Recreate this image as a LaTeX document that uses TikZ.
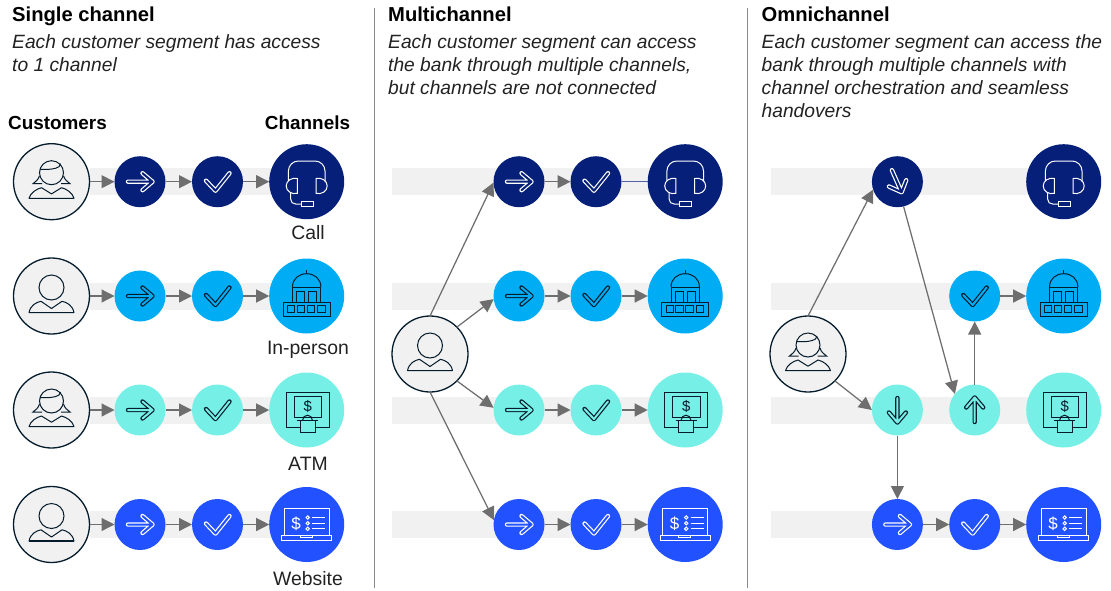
\documentclass[tikz,border=0pt]{standalone}
\usepackage{fontspec}
\setmainfont{Liberation Sans}
\usetikzlibrary{arrows.meta}
\definecolor{navy}{HTML}{06207A}
\definecolor{sky}{HTML}{00ADF5}
\definecolor{aqua}{HTML}{76F0E6}
\definecolor{cobalt}{HTML}{2251FF}
\definecolor{ink}{HTML}{051C2C}
\definecolor{band}{HTML}{F1F1F1}
\definecolor{conn}{HTML}{6E6E6E}
\definecolor{rulec}{HTML}{8A8A8A}
\definecolor{txt}{HTML}{222222}
\tikzset{
  stepdot/.style={circle,minimum size=51pt,inner sep=0pt,outer sep=0pt},
  chandot/.style={circle,minimum size=75pt,inner sep=0pt,outer sep=0pt},
  custdot/.style={circle,minimum size=76pt,inner sep=0pt,outer sep=0pt,fill=band,draw=ink,line width=1.3pt},
  link/.style={draw=conn,line width=1.25pt,-{Triangle[length=13pt,width=13pt]}},
  plainlink/.style={draw=navy!70,line width=1pt},
  ico/.style={line width=1pt,line join=miter},
  title/.style={anchor=base west,inner sep=0pt,font=\fontsize{20.2}{24}\selectfont\bfseries,text=black},
  desc/.style={anchor=base west,inner sep=0pt,font=\fontsize{19.2}{23}\selectfont\itshape,text=txt},
  head/.style={anchor=base,inner sep=0pt,font=\fontsize{18.9}{23}\selectfont\bfseries,text=black},
  lab/.style={anchor=base,inner sep=0pt,font=\fontsize{19.4}{23}\selectfont,text=txt},
  sep/.style={draw=rulec,line width=1pt}
}
% hollow arrow: #1 node, #2 rotation, #3 outline, #4 fill
\newcommand{\icoarrow}[4]{\begin{scope}[shift={(#1)},rotate=#2]
  \draw[line width=1.2pt,draw=#3,double=#4,double distance=2pt,line cap=round,line join=round]
    (-12,0) -- (12.5,0) (2.5,-8.5) -- (12.5,0) -- (2.5,8.5);
\end{scope}}
\newcommand{\icoslant}[3]{\begin{scope}[shift={(#1)}]
  \draw[line width=1.2pt,draw=#2,double=#3,double distance=2pt,line cap=round,line join=round]
    (-5.5,-11.5) -- (4.2,10.5) (-8.5,4.8) -- (4.2,10.5) -- (8.8,-1.5);
\end{scope}}
\newcommand{\icocheck}[3]{\begin{scope}[shift={(#1)}]
  \draw[line width=1.2pt,draw=#2,double=#3,double distance=2pt,line cap=round,line join=round]
    (-11.5,-1) -- (-2,9) -- (12,-8.5);
\end{scope}}
\newcommand{\icoman}[1]{\begin{scope}[shift={(#1)},ico,draw=ink]
  \draw (0,-8.5) circle (12.5);
  \draw[line join=round] (-22.5,16.6) .. controls (-21,9) and (-15,6.2) .. (-10.5,5.3) -- (0,12.5) -- (10.5,5.3) .. controls (15,6.2) and (21,9) .. (22.5,16.6) -- cycle;
  \draw[line width=1.6pt] (-22.5,16.6) -- (22.5,16.6);
\end{scope}}
\newcommand{\icowoman}[1]{\begin{scope}[shift={(#1)},ico,draw=ink]
  \draw (0,-9) circle (12);
  \draw (-11.5,-12.5) .. controls (-3,-12) and (4,-12.5) .. (7.5,-15) -- (9,-18);
  \draw (-12,-6) .. controls (-13,-2) and (-16,0) .. (-18.5,2) -- (-9.5,2);
  \draw (9.5,2) -- (18.5,2) .. controls (16,0) and (13,-2) .. (12,-6);
  \draw[line join=round] (-22.5,16.6) .. controls (-21,11) and (-15,7.2) .. (-10,6) -- (0,12.2) -- (10,6) .. controls (15,7.2) and (21,11) .. (22.5,16.6) -- cycle;
\end{scope}}
\newcommand{\icohead}[2]{\begin{scope}[shift={(#1)},ico,draw=#2]
  \draw[rounded corners=10pt] (-18.3,-0.5) -- (-18.3,-20.7) -- (18.3,-20.7) -- (18.3,-0.5);
  \draw (-9.3,-3.2) .. controls (-15,-4.5) and (-20.5,-1) .. (-20.5,4.2) .. controls (-20.5,9.5) and (-15,13) .. (-9.3,11.7) -- cycle;
  \draw (9.3,-3.2) .. controls (15,-4.5) and (20.5,-1) .. (20.5,4.2) .. controls (20.5,9.5) and (15,13) .. (9.3,11.7) -- cycle;
  \draw (-16,10.5) -- (-16,17.5) .. controls (-16,20.5) and (-14,22.3) .. (-11,22.3) -- (-5.7,22.3);
  \draw (-5.7,20) rectangle (6.7,24.7);
\end{scope}}
\newcommand{\icobank}[1]{\begin{scope}[shift={(#1)},ico,draw=ink]
  \draw (-23.3,6) rectangle (23.3,20.3);
  \draw (-19,9.5) rectangle (-12,16.7) (-9.3,9.5) rectangle (-2,16.7) (0.7,9.5) rectangle (8,16.7) (11,9.5) rectangle (18.3,16.7);
  \draw (-14.2,6) -- (-14.2,-9) (14.2,6) -- (14.2,-9) (-14.2,-9) -- (14.2,-9);
  \draw (-14.2,-9) .. controls (-14.2,-17.5) and (-7.5,-22.3) .. (0,-22.3) .. controls (7.5,-22.3) and (14.2,-17.5) .. (14.2,-9);
  \draw (0,-22.3) -- (0,-25.7);
  \draw (-10,6) -- (-10,-4.7) -- (-1.8,-4.7) -- (-1.8,6) (1.8,6) -- (1.8,-4.7) -- (10,-4.7) -- (10,6);
\end{scope}}
\newcommand{\icoatm}[1]{\begin{scope}[shift={(#1)},ico,draw=ink]
  \draw (-6.7,17.3) -- (-20.3,17.3) -- (-20.3,-17.7) -- (22.3,-17.7) -- (22.3,17.3) -- (8.3,17.3);
  \draw (-12.7,-14) rectangle (15,7.7);
  \draw (-9.3,10) -- (11.7,10);
  \draw (-6.7,10) -- (-6.7,22.7) -- (8.3,22.7) -- (8.3,10);
  \draw (-4,10) arc[start angle=180,end angle=360,radius=4.8];
  \node[inner sep=0pt,text=ink,font=\fontsize{15}{15}\selectfont] at (1,-3.3) {\$};
\end{scope}}
\newcommand{\icolaptop}[1]{\begin{scope}[shift={(#1)},ico,draw=white]
  \draw (-22.3,10.7) -- (-22.3,-16) -- (22.3,-16) -- (22.3,10.7);
  \draw (-25,10.7) rectangle (25,15.7);
  \draw (-6.7,10.7) -- (-6.7,13) -- (5.7,13) -- (5.7,10.7);
  \node[inner sep=0pt,text=white,font=\fontsize{17}{17}\selectfont] at (-10.7,-1) {\$};
  \draw (1,-7) circle (1.7) (1,-1.3) circle (1.7) (1,4.3) circle (1.7);
  \draw (5.7,-7) -- (18.3,-7) (5.7,-1.3) -- (18.3,-1.3) (5.7,4.3) -- (18.3,4.3);
\end{scope}}
\begin{document}
\begin{tikzpicture}[x=1pt,y=-1pt]
\useasboundingbox (0,0) rectangle (1111,590);
% bands
\foreach \y in {181.7,296,410,524.5}{
  \fill[band] (90,\y-13.5) rectangle (272,\y+13.5);
  \fill[band] (392,\y-13.5) rectangle (652,\y+13.5);
  \fill[band] (771,\y-13.5) rectangle (1030,\y+13.5);
}
% panel separators
\coordinate (s1t) at (374.7,8); \coordinate (s1b) at (374.7,588);
\coordinate (s2t) at (747.7,8); \coordinate (s2b) at (747.7,588);
\draw[sep] (s1t) -- (s1b);
\draw[sep] (s2t) -- (s2b);
% texts
\node[title] (t1) at (12,21) {Single channel};
\node[desc] (d1a) at (12,48) {Each customer segment has access};
\node[desc] (d1b) at (12,71) {to 1 channel};
\node[title] (t2) at (388,21) {Multichannel};
\node[desc] (d2a) at (388,48) {Each customer segment can access};
\node[desc] (d2b) at (388,71) {the bank through multiple channels,};
\node[desc] (d2c) at (388,94) {but channels are not connected};
\node[title] (t3) at (761.5,21) {Omnichannel};
\node[desc] (d3a) at (761.5,48) {Each customer segment can access the};
\node[desc] (d3b) at (761.5,71) {bank through multiple channels with};
\node[desc] (d3c) at (761.5,94) {channel orchestration and seamless};
\node[desc] (d3d) at (761.5,117) {handovers};
\node[head] (hc) at (57.5,129) {Customers};
\node[head] (hh) at (307.5,129) {Channels};
\node[lab] (l1) at (308,239) {Call};
\node[lab] (l2) at (308,354) {In-person};
\node[lab] (l3) at (308,470) {ATM};
\node[lab] (l4) at (308,585) {Website};
% panel 1 nodes
\node[custdot] (c1) at (51.5,181.7) {};
\node[custdot] (c2) at (51.5,296) {};
\node[custdot] (c3) at (51.5,410) {};
\node[custdot] (c4) at (51.5,524.5) {};
\icowoman{c1} \icoman{c2} \icowoman{c3} \icoman{c4}
\foreach \p/\xc in {A/306.7,B/685.2,C/1063.7}{
  \node[chandot,fill=navy] (\p h1) at (\xc,181.7) {};
  \node[chandot,fill=sky] (\p h2) at (\xc,296) {};
  \node[chandot,fill=aqua] (\p h3) at (\xc,410) {};
  \node[chandot,fill=cobalt] (\p h4) at (\xc,524.5) {};
  \icohead{\p h1}{white} \icobank{\p h2} \icoatm{\p h3} \icolaptop{\p h4}
}
\foreach \p/\xa/\xb in {A/140/217.5,B/519/596}{
  \node[stepdot,fill=navy] (\p a1) at (\xa,181.7) {};
  \node[stepdot,fill=navy] (\p b1) at (\xb,181.7) {};
  \node[stepdot,fill=sky] (\p a2) at (\xa,296) {};
  \node[stepdot,fill=sky] (\p b2) at (\xb,296) {};
  \node[stepdot,fill=aqua] (\p a3) at (\xa,410) {};
  \node[stepdot,fill=aqua] (\p b3) at (\xb,410) {};
  \node[stepdot,fill=cobalt] (\p a4) at (\xa,524.5) {};
  \node[stepdot,fill=cobalt] (\p b4) at (\xb,524.5) {};
  \icoarrow{\p a1}{0}{white}{navy} \icocheck{\p b1}{white}{navy}
  \icoarrow{\p a2}{0}{ink}{sky} \icocheck{\p b2}{ink}{sky}
  \icoarrow{\p a3}{0}{ink}{aqua} \icocheck{\p b3}{ink}{aqua}
  \icoarrow{\p a4}{0}{white}{cobalt} \icocheck{\p b4}{white}{cobalt}
}
% panel 1 connectors
\foreach \r in {1,2,3,4}{
  \draw[link] (c\r) -- (Aa\r);
  \draw[link] (Aa\r) -- (Ab\r);
  \draw[link] (Ab\r) -- (Ah\r);
  \draw[link] (Ba\r) -- (Bb\r);
}
\foreach \r in {2,3,4}{\draw[link] (Bb\r) -- (Bh\r);}
\draw[plainlink] (Bb1) -- (Bh1);
% panel 2 customer
\node[custdot] (m) at (430,354) {};
\icoman{m}
\draw[link] (m.90) -- (Ba1.182);
\draw[link] (m.45) -- (Ba2.187);
\draw[link] (m.-45) -- (Ba3.175);
\draw[link] (m.-90) -- (Ba4.170);
% panel 3
\node[custdot] (o) at (808,354) {};
\icowoman{o}
\node[stepdot,fill=navy] (Ca1) at (897.4,181.7) {};
\node[stepdot,fill=sky] (Cb2) at (974.7,296) {};
\node[stepdot,fill=aqua] (Ca3) at (897.4,410) {};
\node[stepdot,fill=aqua] (Cb3) at (974.7,410) {};
\node[stepdot,fill=cobalt] (Ca4) at (897.4,524.5) {};
\node[stepdot,fill=cobalt] (Cb4) at (974.7,524.5) {};
\icoslant{Ca1}{white}{navy}
\icocheck{Cb2}{ink}{sky}
\icoarrow{Ca3}{-90}{ink}{aqua}
\icoarrow{Cb3}{90}{ink}{aqua}
\icoarrow{Ca4}{0}{white}{cobalt}
\icocheck{Cb4}{white}{cobalt}
\draw[link] (o.90) -- (Ca1.198);
\draw[link] (o.-45) -- (Ca3.180);
\draw[link] (Ca1.-76) -- (Cb3.141);
\draw[link] (Ca3) -- (Ca4);
\draw[link] (Cb3) -- (Cb2);
\draw[link] (Cb2) -- (Ch2);
\draw[link] (Ca4) -- (Cb4);
\draw[link] (Cb4) -- (Ch4);
\end{tikzpicture}
\end{document}
